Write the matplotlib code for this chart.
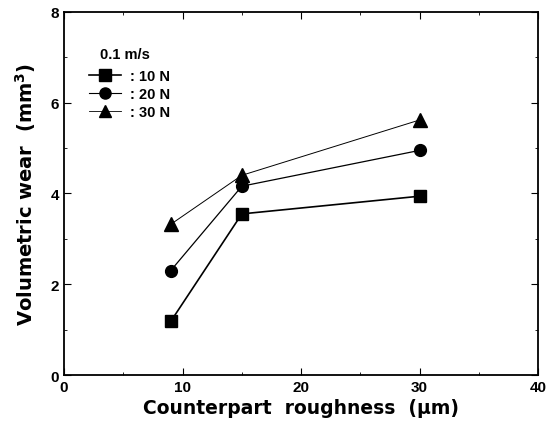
import matplotlib.pyplot as plt
from matplotlib.lines import Line2D
from matplotlib.ticker import MultipleLocator

plt.rcParams['font.family'] = ['Liberation Sans', 'DejaVu Sans']

roughness = [9, 15, 30]
wear_10N = [1.18, 3.55, 3.94]
wear_20N = [2.30, 4.16, 4.95]
wear_30N = [3.32, 4.40, 5.62]


def main():
    fig = plt.figure(figsize=(5.47, 4.39), dpi=100)
    ax = fig.add_axes([0.117, 0.1435, 0.867, 0.827])

    ax.plot(roughness, wear_10N, color='black', lw=1.2, marker='s', ms=8.5, label=': 10 N')
    ax.plot(roughness, wear_20N, color='black', lw=0.9, marker='o', ms=8.5, label=': 20 N')
    ax.plot(roughness, wear_30N, color='black', lw=0.7, marker='^', ms=10, label=': 30 N')

    ax.set_xlim(0, 40)
    ax.set_ylim(0, 8)
    ax.xaxis.set_major_locator(MultipleLocator(10))
    ax.xaxis.set_minor_locator(MultipleLocator(5))
    ax.yaxis.set_major_locator(MultipleLocator(2))
    ax.yaxis.set_minor_locator(MultipleLocator(1))
    ax.tick_params(which='both', direction='in', top=True, right=True)
    ax.tick_params(which='major', length=5, labelsize=11)
    ax.tick_params(which='minor', length=2.5)
    for lab in ax.get_xticklabels() + ax.get_yticklabels():
        lab.set_fontweight('bold')
    for sp in ax.spines.values():
        sp.set_linewidth(1.3)

    ax.set_xlabel('Counterpart  roughness  (μm)', fontsize=13.5, fontweight='bold',
                  family='DejaVu Sans', labelpad=3)
    ax.set_ylabel('Volumetric wear  (mm$^\\mathbf{3}$)', fontsize=14, fontweight='bold',
                  family='DejaVu Sans', labelpad=9)

    # legend: handles drawn thin like in the original
    handles = [
        Line2D([], [], color='black', lw=1.2, marker='s', ms=8),
        Line2D([], [], color='black', lw=0.8, marker='o', ms=8),
        Line2D([], [], color='black', lw=0.6, marker='^', ms=8),
    ]
    labels = [': 10 N', ': 20 N', ': 30 N']
    ax.legend(handles, labels, loc='upper left', bbox_to_anchor=(0.025, 0.88),
              frameon=False, handlelength=2.2, handletextpad=0.6,
              labelspacing=0.3, prop={'weight': 'bold', 'size': 10.5})
    ax.text(0.075, 0.885, '0.1 m/s', transform=ax.transAxes, fontsize=10.5,
            fontweight='bold', va='center', ha='left')

    fig.savefig('out.png', dpi=100)


if __name__ == "__main__":
    main()
